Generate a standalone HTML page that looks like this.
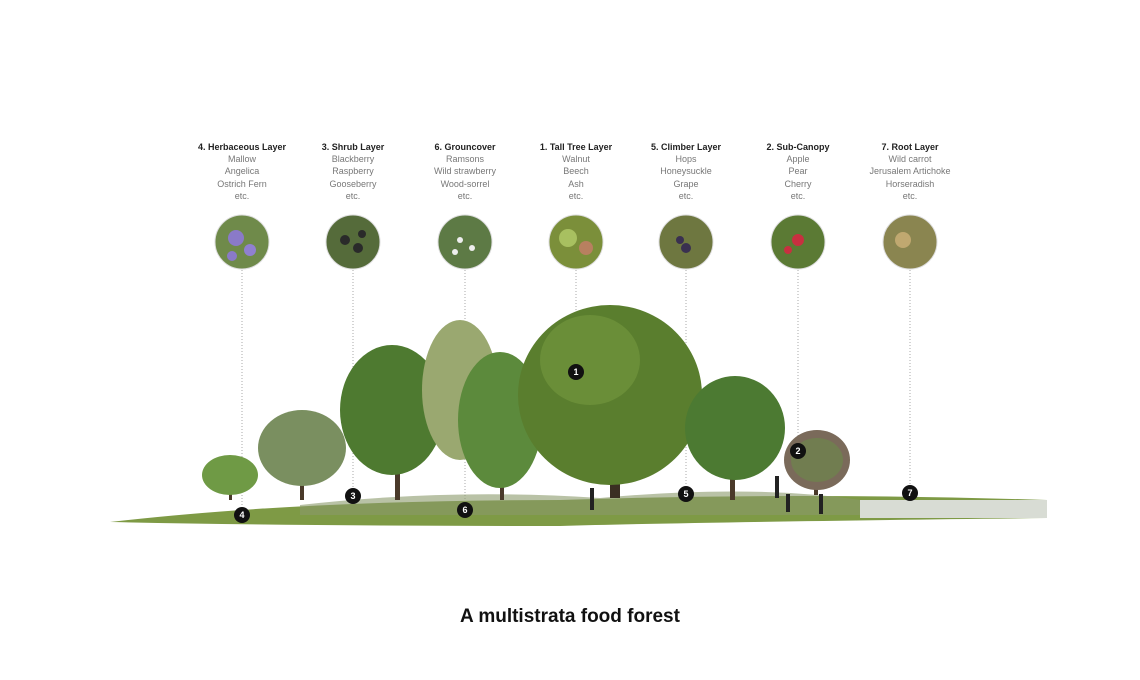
<!DOCTYPE html>
<html><head><meta charset="utf-8"><style>
html,body{margin:0;padding:0;background:#fff;width:1140px;height:680px;overflow:hidden}
svg{display:block}
.h{font:bold 9px "Liberation Sans",sans-serif;fill:#222}
.t{font:9px "Liberation Sans",sans-serif;fill:#777}
.n{font:bold 9px "Liberation Sans",sans-serif;fill:#fff}
</style></head><body>
<svg width="1140" height="680" viewBox="0 0 1140 680" xmlns="http://www.w3.org/2000/svg">
<g text-anchor="middle">
<text class="h" x="242" y="150">4. Herbaceous Layer</text>
<text class="t" x="242" y="162">Mallow</text><text class="t" x="242" y="174">Angelica</text><text class="t" x="242" y="187">Ostrich Fern</text><text class="t" x="242" y="199">etc.</text>
<text class="h" x="353" y="150">3. Shrub Layer</text>
<text class="t" x="353" y="162">Blackberry</text><text class="t" x="353" y="174">Raspberry</text><text class="t" x="353" y="187">Gooseberry</text><text class="t" x="353" y="199">etc.</text>
<text class="h" x="465" y="150">6. Grouncover</text>
<text class="t" x="465" y="162">Ramsons</text><text class="t" x="465" y="174">Wild strawberry</text><text class="t" x="465" y="187">Wood-sorrel</text><text class="t" x="465" y="199">etc.</text>
<text class="h" x="576" y="150">1. Tall Tree Layer</text>
<text class="t" x="576" y="162">Walnut</text><text class="t" x="576" y="174">Beech</text><text class="t" x="576" y="187">Ash</text><text class="t" x="576" y="199">etc.</text>
<text class="h" x="686" y="150">5. Climber Layer</text>
<text class="t" x="686" y="162">Hops</text><text class="t" x="686" y="174">Honeysuckle</text><text class="t" x="686" y="187">Grape</text><text class="t" x="686" y="199">etc.</text>
<text class="h" x="798" y="150">2. Sub-Canopy</text>
<text class="t" x="798" y="162">Apple</text><text class="t" x="798" y="174">Pear</text><text class="t" x="798" y="187">Cherry</text><text class="t" x="798" y="199">etc.</text>
<text class="h" x="910" y="150">7. Root Layer</text>
<text class="t" x="910" y="162">Wild carrot</text><text class="t" x="910" y="174">Jerusalem Artichoke</text><text class="t" x="910" y="187">Horseradish</text><text class="t" x="910" y="199">etc.</text>
</g>
<g stroke="#aaa" stroke-width="1" stroke-dasharray="1,2">
<line x1="242" y1="270" x2="242" y2="508"/><line x1="353" y1="270" x2="353" y2="490"/>
<line x1="465" y1="270" x2="465" y2="503"/><line x1="576" y1="270" x2="576" y2="365"/>
<line x1="686" y1="270" x2="686" y2="488"/><line x1="798" y1="270" x2="798" y2="445"/>
<line x1="910" y1="270" x2="910" y2="487"/>
</g>
<g stroke="#ddd" stroke-width="1">
<circle cx="242" cy="242" r="27" fill="#6f8a4a"/><circle cx="353" cy="242" r="27" fill="#556b3a"/>
<circle cx="465" cy="242" r="27" fill="#5d7a45"/><circle cx="576" cy="242" r="27" fill="#7b8f3a"/>
<circle cx="686" cy="242" r="27" fill="#6e7740"/><circle cx="798" cy="242" r="27" fill="#5b7a34"/>
<circle cx="910" cy="242" r="27" fill="#8a8550"/>
</g>
<circle cx="236" cy="238" r="8" fill="#8a7ac8"/><circle cx="250" cy="250" r="6" fill="#9080d0"/><circle cx="232" cy="256" r="5" fill="#8a7ac8"/>
<circle cx="345" cy="240" r="5" fill="#2a2a2a"/><circle cx="358" cy="248" r="5" fill="#2a2a2a"/><circle cx="362" cy="234" r="4" fill="#2a2a2a"/>
<circle cx="460" cy="240" r="3" fill="#eee"/><circle cx="472" cy="248" r="3" fill="#eee"/><circle cx="455" cy="252" r="3" fill="#eee"/>
<circle cx="568" cy="238" r="9" fill="#a8c060"/><circle cx="586" cy="248" r="7" fill="#b88060"/>
<circle cx="686" cy="248" r="5" fill="#3a3050"/><circle cx="680" cy="240" r="4" fill="#3a3050"/>
<circle cx="798" cy="240" r="6" fill="#c83040"/><circle cx="788" cy="250" r="4" fill="#c83040"/>
<circle cx="903" cy="240" r="8" fill="#c0a870"/>
<!-- ground -->
<path d="M110 522 Q300 500 560 500 Q800 492 1047 500 L1047 518 Q700 522 560 526 Q300 526 110 522Z" fill="#7e9a45"/>
<path d="M860 500 L1047 500 L1047 518 L860 518Z" fill="#d8dcd4"/>
<path d="M300 505 Q450 488 600 498 Q750 484 860 500 L860 515 L300 515Z" fill="#8a9a6a" opacity=".6"/>
<!-- trees -->
<g>
<rect x="229" y="478" width="3" height="22" fill="#4a3a2a"/>
<ellipse cx="230" cy="475" rx="28" ry="20" fill="#6f9a45"/>
<rect x="300" y="460" width="4" height="40" fill="#4a3a2a"/>
<ellipse cx="302" cy="448" rx="44" ry="38" fill="#7a8f60"/>
<rect x="395" y="440" width="5" height="60" fill="#4a3a2a"/>
<ellipse cx="392" cy="410" rx="52" ry="65" fill="#4e7a30"/>
<ellipse cx="460" cy="390" rx="38" ry="70" fill="#9aa870"/>
<rect x="500" y="450" width="4" height="50" fill="#4a3a2a"/>
<ellipse cx="500" cy="420" rx="42" ry="68" fill="#5c8a3c"/>
<rect x="610" y="450" width="10" height="48" fill="#3a2e22"/>
<ellipse cx="610" cy="395" rx="92" ry="90" fill="#5a7e2e"/>
<ellipse cx="590" cy="360" rx="50" ry="45" fill="#6a8e38"/>
<rect x="730" y="450" width="5" height="50" fill="#4a3a2a"/>
<ellipse cx="735" cy="428" rx="50" ry="52" fill="#4c7a32"/>
<rect x="814" y="460" width="4" height="35" fill="#4a3a2a"/>
<ellipse cx="817" cy="460" rx="33" ry="30" fill="#7a6a5a"/>
<ellipse cx="817" cy="460" rx="26" ry="22" fill="#6a8a4a" opacity=".6"/>
</g>
<g fill="#222"><rect x="590" y="488" width="4" height="22"/><rect x="775" y="476" width="4" height="22"/><rect x="786" y="494" width="4" height="18"/><rect x="819" y="494" width="4" height="20"/></g>
<!-- markers -->
<g text-anchor="middle">
<circle cx="242" cy="515" r="8" fill="#111"/><text class="n" x="242" y="518">4</text>
<circle cx="353" cy="496" r="8" fill="#111"/><text class="n" x="353" y="499">3</text>
<circle cx="465" cy="510" r="8" fill="#111"/><text class="n" x="465" y="513">6</text>
<circle cx="576" cy="372" r="8" fill="#111"/><text class="n" x="576" y="375">1</text>
<circle cx="686" cy="494" r="8" fill="#111"/><text class="n" x="686" y="497">5</text>
<circle cx="798" cy="451" r="8" fill="#111"/><text class="n" x="798" y="454">2</text>
<circle cx="910" cy="493" r="8" fill="#111"/><text class="n" x="910" y="496">7</text>
<text x="570" y="622" style="font:bold 19px 'Liberation Sans',sans-serif;fill:#111">A multistrata food forest</text>
</g>
</svg>
</body></html>
